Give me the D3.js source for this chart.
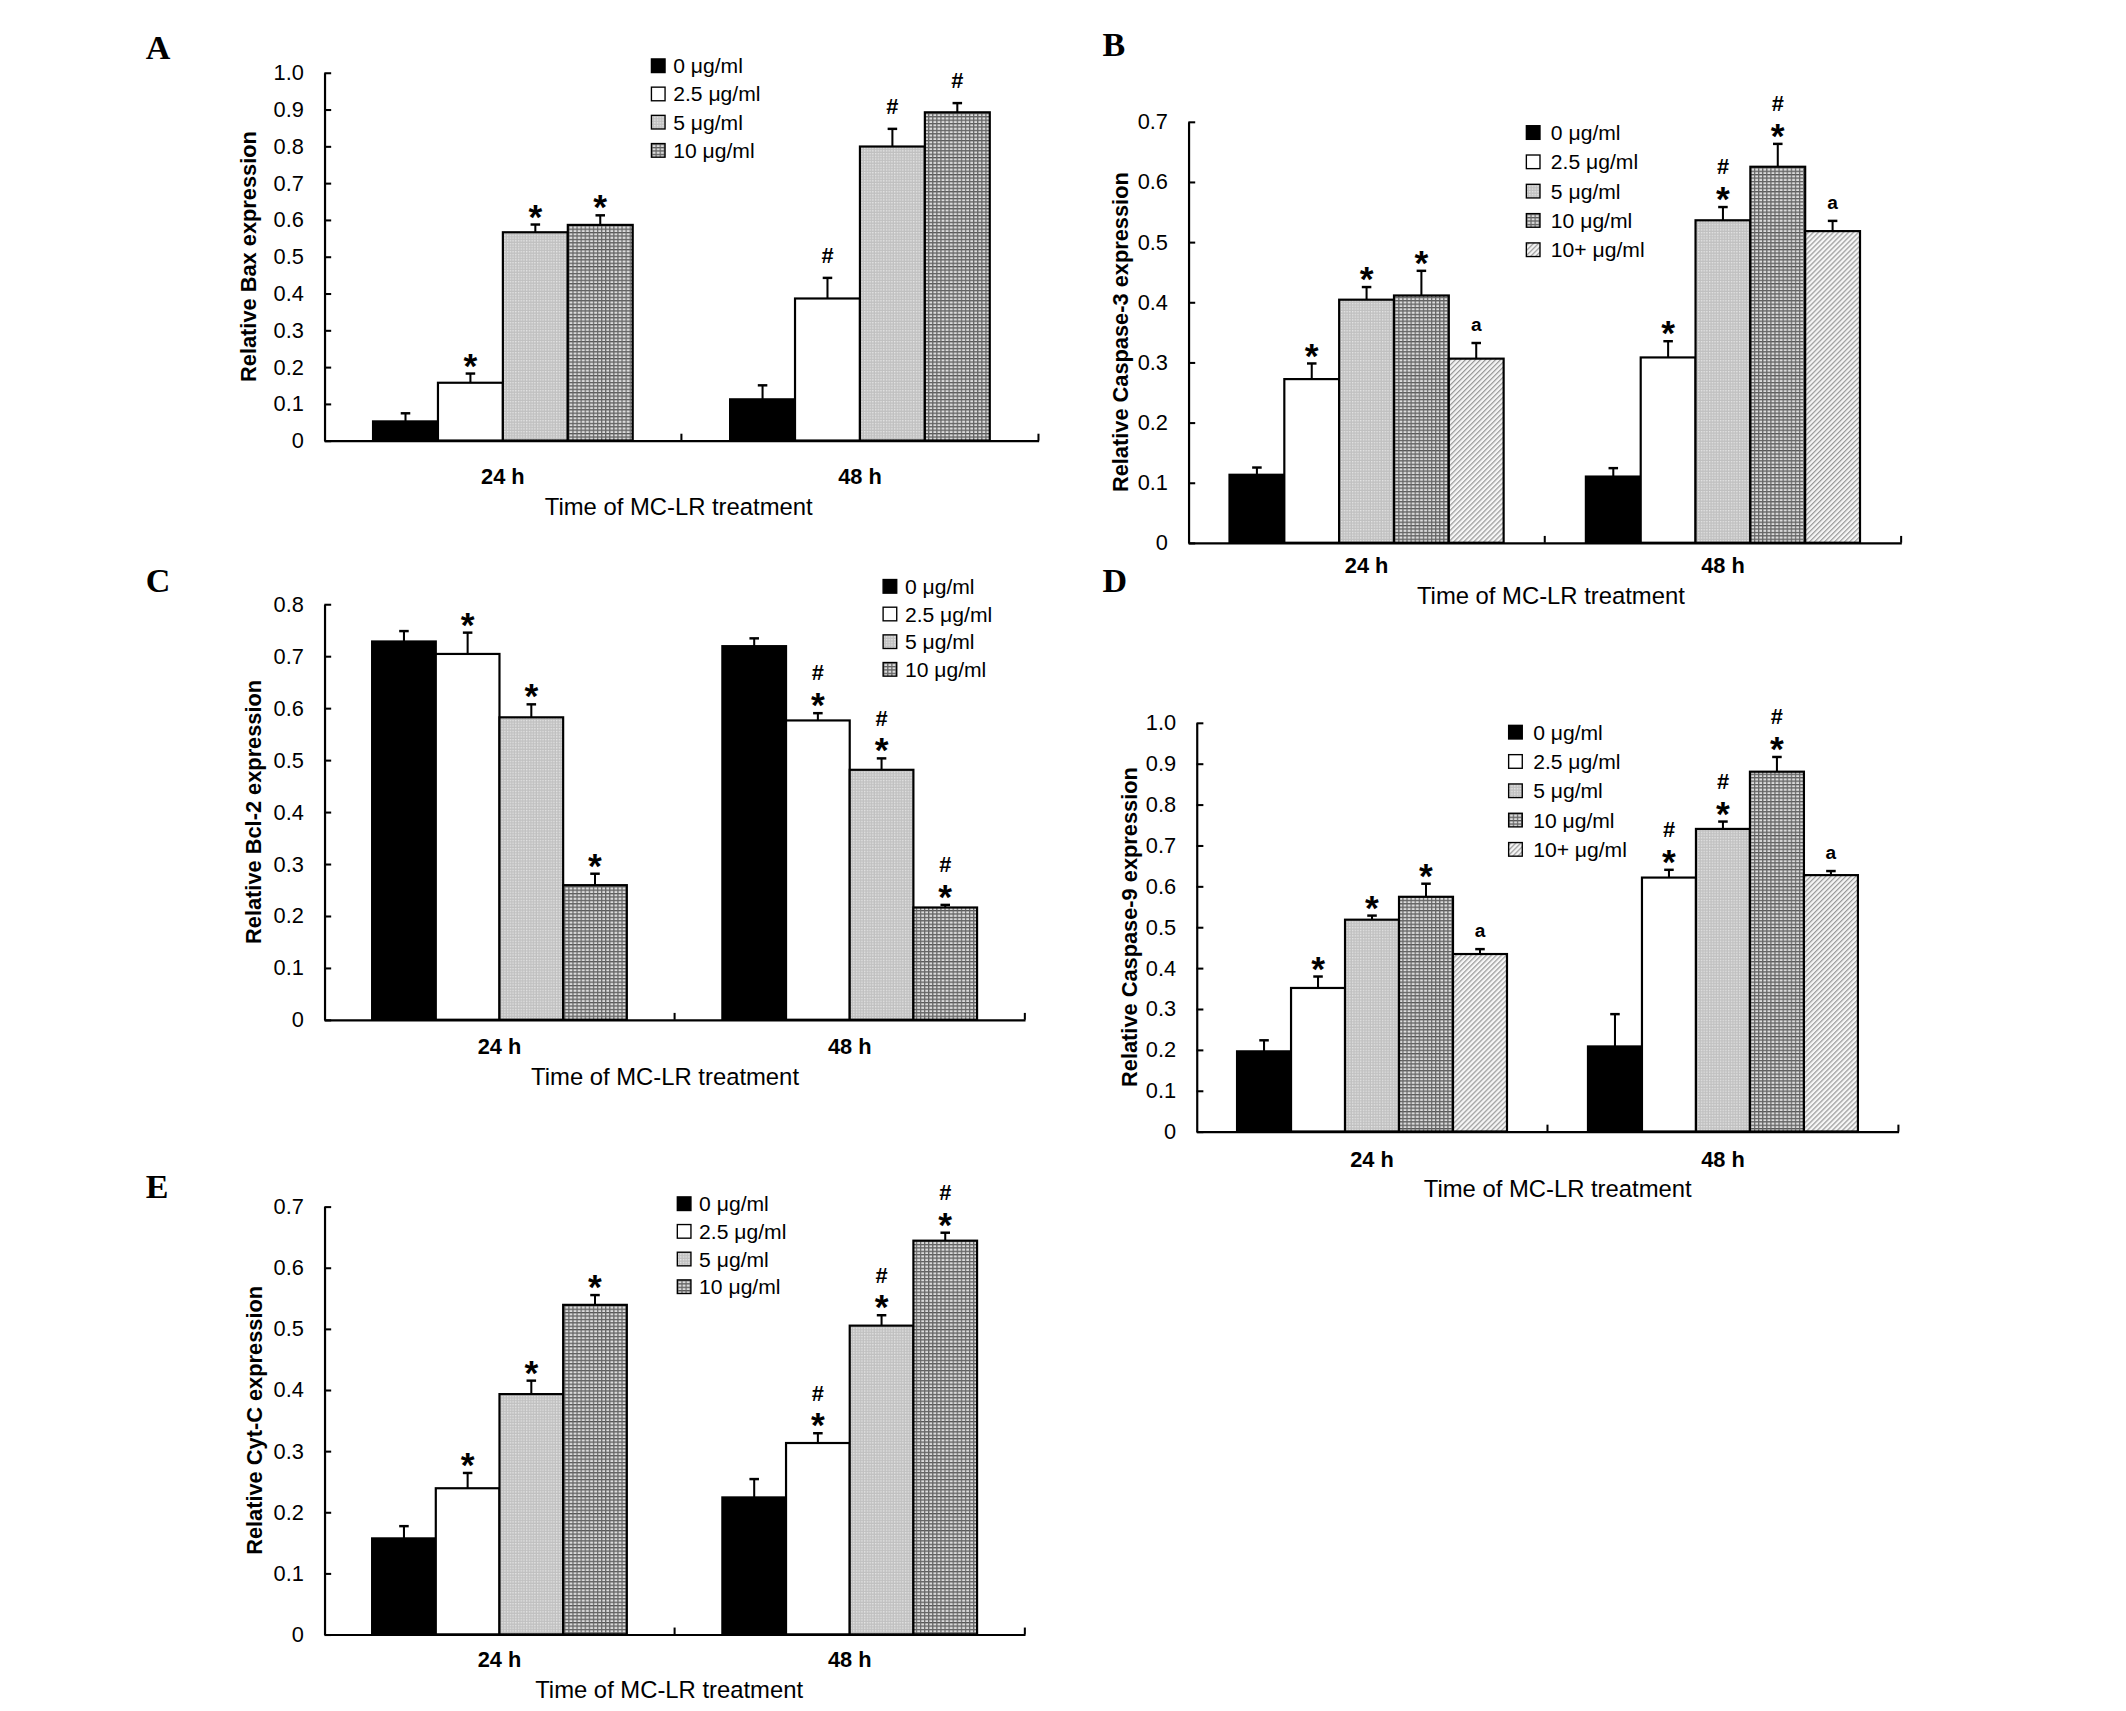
<!DOCTYPE html>
<html>
<head>
<meta charset="utf-8">
<script src="https://cdn.jsdelivr.net/npm/d3@7"></script>
<style>
  body { margin: 0; background: #fff; }
  svg { display: block; }
</style>
</head>
<body>
<div id="fig"></div>
<script>
// categories
const times = ["24 h", "48 h"];
const doses = ["0 μg/ml", "2.5 μg/ml", "5 μg/ml", "10 μg/ml", "10+ μg/ml"];

// tick labels
const ticks10 = [0, 0.1, 0.2, 0.3, 0.4, 0.5, 0.6, 0.7, 0.8, 0.9, 1.0];
const ticks08 = [0, 0.1, 0.2, 0.3, 0.4, 0.5, 0.6, 0.7, 0.8];
const ticks07 = [0, 0.1, 0.2, 0.3, 0.4, 0.5, 0.6, 0.7];

// A: Bax  (rows = 24 h, 48 h)
const baxMean = [[0.052, 0.157, 0.566, 0.586], [0.112, 0.386, 0.799, 0.892]];
const baxErr = [[0.022, 0.025, 0.021, 0.026], [0.038, 0.056, 0.048, 0.025]];
const baxMarks = [["", "*", "*", "*"], ["", "#", "#", "#"]];

// B: Caspase-3
const casp3Mean = [[0.113, 0.272, 0.404, 0.411, 0.306], [0.110, 0.308, 0.536, 0.625, 0.518]];
const casp3Err = [[0.012, 0.026, 0.021, 0.041, 0.026], [0.014, 0.027, 0.022, 0.038, 0.017]];
const casp3Marks = [["", "*", "*", "*", "a"], ["", "*", "*#", "*#", "a"]];

// C: Bcl-2
const bcl2Mean = [[0.728, 0.704, 0.582, 0.259], [0.719, 0.576, 0.481, 0.216]];
const bcl2Err = [[0.020, 0.041, 0.025, 0.022], [0.015, 0.014, 0.022, 0.005]];
const bcl2Marks = [["", "*", "*", "*"], ["", "*#", "*#", "*#"]];

// D: Caspase-9
const casp9Mean = [[0.196, 0.351, 0.518, 0.574, 0.434], [0.208, 0.621, 0.740, 0.880, 0.627]];
const casp9Err = [[0.027, 0.028, 0.010, 0.032, 0.012], [0.079, 0.019, 0.018, 0.036, 0.010]];
const casp9Marks = [["", "*", "*", "*", "a"], ["", "*#", "*#", "*#", "a"]];

// E: Cyt-C
const cytcMean = [[0.157, 0.239, 0.393, 0.539], [0.224, 0.313, 0.505, 0.644]];
const cytcErr = [[0.020, 0.025, 0.022, 0.016], [0.030, 0.016, 0.017, 0.013]];
const cytcMarks = [["", "*", "*", "*"], ["", "*#", "*#", "*#"]];

// layout, in the 1560x1255 coordinate space of the figure
const panels = [
  { label: "A", ytitle: "Relative Bax expression", mean: baxMean, err: baxErr, marks: baxMarks, ticks: ticks10,
    x0: 238, x1: 762, y0: 323, yTop: 53, lx: 107, ly: 43, legX: 478, legY: 48, legDy: 20.7,
    catY: 355, titleX: 498, titleY: 378, ytX: 182 },
  { label: "B", ytitle: "Relative Caspase-3 expression", mean: casp3Mean, err: casp3Err, marks: casp3Marks, ticks: ticks07,
    x0: 872, x1: 1395, y0: 398, yTop: 89, lx: 809, ly: 41, legX: 1120, legY: 97, legDy: 21.5,
    catY: 420, titleX: 1138, titleY: 443, ytX: 822 },
  { label: "C", ytitle: "Relative Bcl-2 expression", mean: bcl2Mean, err: bcl2Err, marks: bcl2Marks, ticks: ticks08,
    x0: 238, x1: 752, y0: 748, yTop: 443, lx: 107, ly: 434, legX: 648, legY: 430, legDy: 20.3,
    catY: 773, titleX: 488, titleY: 796, ytX: 186 },
  { label: "D", ytitle: "Relative Caspase-9 expression", mean: casp9Mean, err: casp9Err, marks: casp9Marks, ticks: ticks10,
    x0: 878, x1: 1393, y0: 830, yTop: 530, lx: 809, ly: 434, legX: 1107, legY: 537, legDy: 21.5,
    catY: 856, titleX: 1143, titleY: 878, ytX: 829 },
  { label: "E", ytitle: "Relative Cyt-C expression", mean: cytcMean, err: cytcErr, marks: cytcMarks, ticks: ticks07,
    x0: 238, x1: 752, y0: 1199, yTop: 885, lx: 107, ly: 879, legX: 497, legY: 883, legDy: 20.3,
    catY: 1223, titleX: 491, titleY: 1246, ytX: 187 }
];

const sans = "'Liberation Sans', Arial, sans-serif";
const fills = ["#000", "#fff", "url(#p5)", "url(#p10)", "url(#p10p)"];

const svg = d3.select("#fig").append("svg")
  .attr("width", 2126)
  .attr("height", 1711)
  .attr("viewBox", "0 0 1560 1255");

svg.append("rect").attr("width", 1560).attr("height", 1255).attr("fill", "#fff");

// hatch fills
const defs = svg.append("defs");
const p5 = defs.append("pattern").attr("id", "p5").attr("patternUnits", "userSpaceOnUse")
  .attr("width", 2).attr("height", 2);
p5.append("rect").attr("width", 2).attr("height", 2).attr("fill", "#c0c0c0");
p5.append("rect").attr("width", 1).attr("height", 1).attr("fill", "#e6e6e6");

const p10 = defs.append("pattern").attr("id", "p10").attr("patternUnits", "userSpaceOnUse")
  .attr("width", 3).attr("height", 2.5);
p10.append("rect").attr("width", 3).attr("height", 2.5).attr("fill", "#dcdcdc");
p10.append("rect").attr("width", 3).attr("height", 0.9).attr("fill", "#555");
p10.append("rect").attr("width", 0.9).attr("height", 2.5).attr("fill", "#666");

const p10p = defs.append("pattern").attr("id", "p10p").attr("patternUnits", "userSpaceOnUse")
  .attr("width", 2.6).attr("height", 2.6).attr("patternTransform", "rotate(45)");
p10p.append("rect").attr("width", 2.6).attr("height", 2.6).attr("fill", "#f6f6f6");
p10p.append("rect").attr("width", 0.9).attr("height", 2.6).attr("fill", "#9a9a9a");

const fmt = d => d === 0 ? "0" : d3.format(".1f")(d);

function drawPanel(p) {
  const g = svg.append("g");
  const n = p.mean[0].length;
  const maxV = p.ticks[p.ticks.length - 1];

  const y = d3.scaleLinear().domain([0, maxV]).range([p.y0, p.yTop]);
  const x = d3.scaleBand().domain(times).range([p.x0, p.x1]);
  const xs = d3.scaleBand().domain(d3.range(n)).range([0, x.bandwidth()])
    .paddingInner(0).paddingOuter(0.75);

  // panel letter
  g.append("text")
    .attr("x", p.lx).attr("y", p.ly)
    .attr("font-family", "'Liberation Serif', 'Times New Roman', serif")
    .attr("font-weight", "bold").attr("font-size", 25)
    .text(p.label);

  // bars
  const rows = [];
  times.forEach((t, ti) => {
    p.mean[ti].forEach((v, i) => {
      rows.push({ t, i, v, e: p.err[ti][i], m: p.marks[ti][i] });
    });
  });

  const bx = d => x(d.t) + xs(d.i);

  g.selectAll("rect.bar")
    .data(rows)
    .join("rect")
    .attr("class", "bar")
    .attr("x", bx)
    .attr("y", d => y(d.v))
    .attr("width", xs.bandwidth())
    .attr("height", d => p.y0 - y(d.v))
    .attr("fill", d => fills[d.i])
    .attr("stroke", "#000")
    .attr("stroke-width", 1.6);

  // error bars (upper only)
  const eb = g.selectAll("g.err").data(rows).join("g").attr("class", "err");
  eb.append("line")
    .attr("x1", d => bx(d) + xs.bandwidth() / 2)
    .attr("x2", d => bx(d) + xs.bandwidth() / 2)
    .attr("y1", d => y(d.v))
    .attr("y2", d => y(d.v + d.e))
    .attr("stroke", "#000").attr("stroke-width", 1.5);
  eb.append("line")
    .attr("x1", d => bx(d) + xs.bandwidth() / 2 - 3.5)
    .attr("x2", d => bx(d) + xs.bandwidth() / 2 + 3.5)
    .attr("y1", d => y(d.v + d.e))
    .attr("y2", d => y(d.v + d.e))
    .attr("stroke", "#000").attr("stroke-width", 1.8);

  // significance marks
  rows.filter(d => d.m).forEach(d => {
    const cx = bx(d) + xs.bandwidth() / 2;
    const top = y(d.v + d.e);
    if (d.m.includes("*")) {
      g.append("text").attr("x", cx).attr("y", top + 3)
        .attr("text-anchor", "middle").attr("font-family", sans)
        .attr("font-weight", "bold").attr("font-size", 26).text("*");
    }
    if (d.m.includes("#")) {
      const off = d.m.includes("*") ? 24 : 11;
      g.append("text").attr("x", cx).attr("y", top - off)
        .attr("text-anchor", "middle").attr("font-family", sans)
        .attr("font-weight", "bold").attr("font-size", 16).text("#");
    }
    if (d.m === "a") {
      g.append("text").attr("x", cx).attr("y", top - 9)
        .attr("text-anchor", "middle").attr("font-family", sans)
        .attr("font-weight", "bold").attr("font-size", 14).text("a");
    }
  });

  // y axis
  const ya = g.append("g")
    .attr("transform", `translate(${p.x0},0)`)
    .call(d3.axisLeft(y).tickValues(p.ticks).tickFormat(fmt)
      .tickSizeInner(-5).tickSizeOuter(0).tickPadding(15));
  ya.select(".domain").attr("stroke", "#000").attr("stroke-width", 1.6);
  ya.selectAll(".tick line").attr("stroke", "#000").attr("stroke-width", 1.5);
  ya.selectAll(".tick text").attr("font-family", sans).attr("font-size", 16).attr("fill", "#000");

  // x axis
  const catFs = 16;
  const xa = g.append("g")
    .attr("transform", `translate(0,${p.y0})`)
    .call(d3.axisBottom(x).tickSize(0).tickPadding(p.catY - p.y0 - 0.71 * catFs));
  xa.select(".domain").attr("stroke", "#000").attr("stroke-width", 1.6);
  xa.selectAll(".tick text").attr("font-family", sans).attr("font-weight", "bold")
    .attr("font-size", catFs).attr("fill", "#000");

  // category boundary ticks
  g.selectAll("line.bnd")
    .data(times.slice(1).map(t => x(t)).concat([p.x1]))
    .join("line")
    .attr("class", "bnd")
    .attr("x1", d => d).attr("x2", d => d)
    .attr("y1", p.y0).attr("y2", p.y0 - 5)
    .attr("stroke", "#000").attr("stroke-width", 1.5);

  // axis titles
  g.append("text")
    .attr("x", p.titleX).attr("y", p.titleY)
    .attr("text-anchor", "middle").attr("font-family", sans).attr("font-size", 17.5)
    .text("Time of MC-LR treatment");

  g.append("text")
    .attr("transform", `translate(${p.ytX},${(p.y0 + p.yTop) / 2}) rotate(-90)`)
    .attr("text-anchor", "middle").attr("dominant-baseline", "central")
    .attr("font-family", sans).attr("font-weight", "bold").attr("font-size", 16)
    .text(p.ytitle);

  // legend
  const leg = g.selectAll("g.leg")
    .data(doses.slice(0, n))
    .join("g")
    .attr("class", "leg")
    .attr("transform", (d, i) => `translate(${p.legX},${p.legY + i * p.legDy})`);
  leg.append("rect")
    .attr("x", 0).attr("y", -5).attr("width", 10).attr("height", 10)
    .attr("fill", (d, i) => fills[i]).attr("stroke", "#000").attr("stroke-width", 1);
  leg.append("text")
    .attr("x", p.legX > 1000 ? 18 : 16).attr("y", 5.5)
    .attr("font-family", sans).attr("font-size", 15.5)
    .text(d => d);
}

panels.forEach(drawPanel);
</script>
</body>
</html>
